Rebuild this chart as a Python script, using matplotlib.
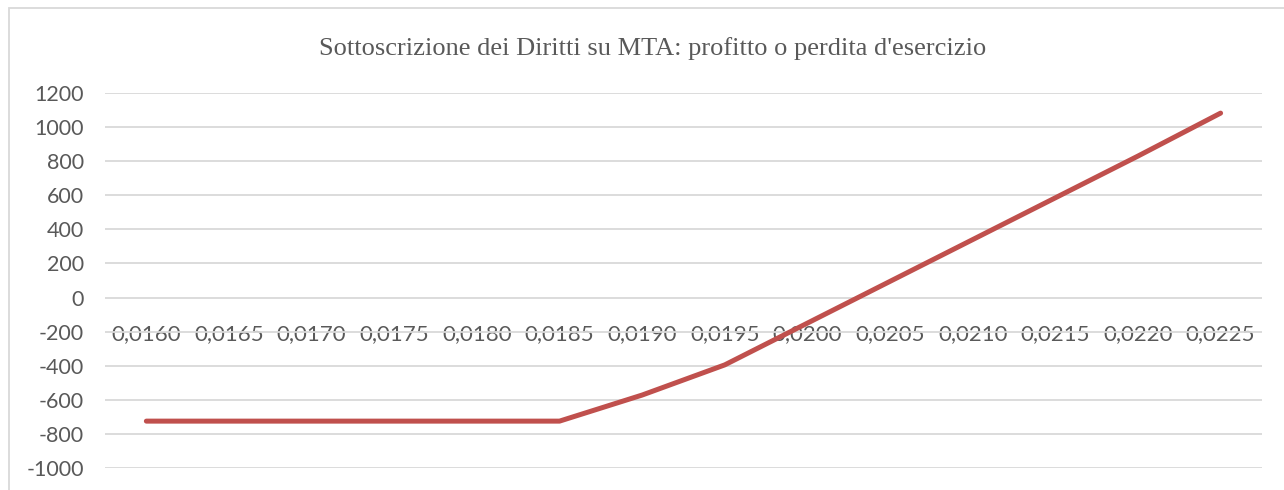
import matplotlib
matplotlib.use("Agg")
import matplotlib.pyplot as plt
from matplotlib.patches import Rectangle

# prezzo del diritto (categorie) e profitto/perdita
prezzi = ["0,0160", "0,0165", "0,0170", "0,0175", "0,0180", "0,0185", "0,0190",
          "0,0195", "0,0200", "0,0205", "0,0210", "0,0215", "0,0220", "0,0225"]
profitto = [-725, -725, -725, -725, -725, -725, -572,
            -395, -150, 95, 340, 585, 830, 1082]
y_ticks = [-1000, -800, -600, -400, -200, 0, 200, 400, 600, 800, 1000, 1200]

TEXT = "#595959"
GRID = "#D9D9D9"
LINE = "#C0504D"

fig = plt.figure(figsize=(12.84, 4.90), dpi=100)
ax = fig.add_axes([0.0818, 0.0449, 0.901, 0.7653])

ax.plot(range(len(prezzi)), profitto, color=LINE, linewidth=3.6,
        solid_capstyle="round", solid_joinstyle="round", zorder=3)

ax.set_xlim(-0.5, len(prezzi) - 0.5)
ax.set_ylim(-1000, 1200)
ax.spines["bottom"].set_position(("data", 0))
for s in ax.spines.values():
    s.set_color("none")

ax.set_yticks(y_ticks)
ax.set_yticklabels([str(v) for v in y_ticks], fontsize=15.5, color=TEXT, family="Lato")
ax.set_xticks(range(len(prezzi)))
ax.set_xticklabels(prezzi, fontsize=16, color=TEXT, family="Lato")
ax.grid(axis="y", color=GRID, linewidth=1.3)
ax.set_axisbelow(True)
ax.tick_params(axis="both", length=0)
ax.tick_params(axis="y", pad=15)
ax.tick_params(axis="x", pad=19)

fig.text(0.508, 0.902, "Sottoscrizione dei Diritti su MTA: profitto o perdita d'esercizio",
         ha="center", va="center", fontsize=19, color=TEXT, family="Liberation Serif")

fig.patches.append(Rectangle((9 / 1284, -0.1), 1.2, 1 - 8 / 490 + 0.1,
                             transform=fig.transFigure, fill=False,
                             edgecolor=GRID, linewidth=1.3))

fig.savefig("out.png", dpi=100)
